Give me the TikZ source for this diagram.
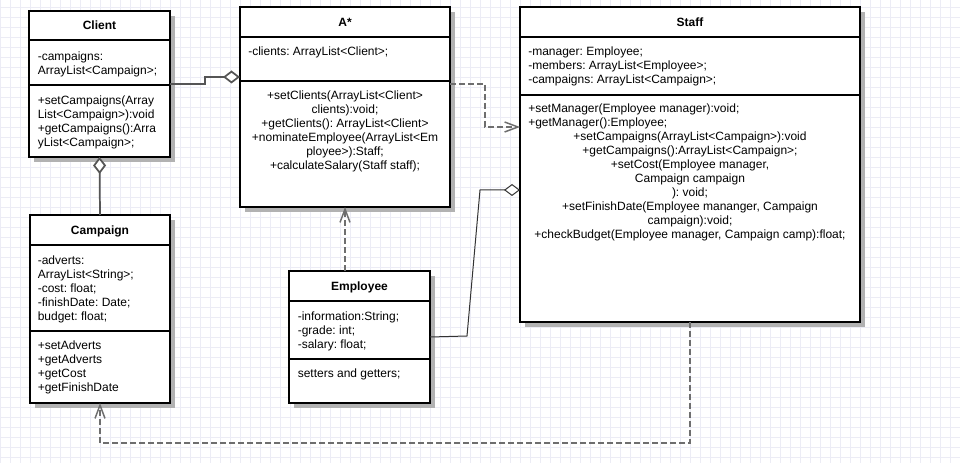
\documentclass[tikz,border=0pt]{standalone}
\usepackage{fontspec}
\setmainfont{Liberation Sans}
\usetikzlibrary{arrows.meta,shadows}
\definecolor{gridc}{RGB}{236,236,245}
\definecolor{agggray}{RGB}{85,85,85}
\definecolor{depgray}{RGB}{110,110,110}
\frenchspacing
\begin{document}
\frenchspacing
\begin{tikzpicture}[x=0.75pt,y=-0.75pt,
  cls/.style={draw=black,line width=1.5pt,fill=white,inner sep=0pt,outer sep=0pt,
    drop shadow={shadow xshift=3.75pt,shadow yshift=-3.75pt,fill=black!30,opacity=1}},
  sepline/.style={draw=black,line width=1.5pt},
  hdr/.style={font=\fontsize{9}{10.5}\selectfont\bfseries,inner sep=0pt,text height=8pt,text depth=1.6pt},
  txt/.style={font=\fontsize{9}{10.5}\selectfont\frenchspacing,inner sep=0pt,anchor=north west,align=left},
  ctxt/.style={font=\fontsize{9}{10.5}\selectfont\frenchspacing,inner sep=0pt,anchor=north,align=center},
  dep/.style={draw=depgray,line width=1.1pt,dash pattern=on 4.5pt off 2.25pt,
    -{Straight Barb[length=10pt,width=7.5pt]}},
  agg/.style={draw=agggray,line width=1.3pt,{Diamond[length=12.75pt,width=9.75pt,fill=white]}-},
  aggthin/.style={draw=black!80,line width=0.75pt,{Diamond[length=12pt,width=9pt,fill=white]}-}]

% background and grid
\fill[white] (0,0) rectangle (960,463);
\useasboundingbox (0,0) rectangle (960,463);
\foreach \gx in {0,10,...,960} \draw[gridc,line width=0.6pt] (\gx,0) -- (\gx,463);
\foreach \gy in {7,17,...,457} \draw[gridc,line width=0.6pt] (0,\gy) -- (960,\gy);

% Client
\node[cls,minimum width=105.75pt,minimum height=109.5pt] (client) at (99.5,84) {};
\draw[sepline] (client.west |- 0,40) -- (client.east |- 0,40);
\draw[sepline] (client.west |- 0,85) -- (client.east |- 0,85);
\node[hdr] (clienth) at (99.5,25.5) {Client};
\node[txt] (clienta) at (37.5,50.2) {\strut-campaigns:\\ArrayList<Campaign>;};
\node[txt] (clientm) at (37.5,94.7) {\strut+setCampaigns(Array\\List<Campaign>):void\\+getCampaigns():Arra\\yList<Campaign>;};

% A*
\node[cls,minimum width=157.5pt,minimum height=150pt] (astar) at (345,107) {};
\draw[sepline] (astar.west |- 0,37) -- (astar.east |- 0,37);
\draw[sepline] (astar.west |- 0,81) -- (astar.east |- 0,81);
\node[hdr] (astarh) at (345,22) {A*};
\node[txt] (astara) at (248,45.9) {\strut-clients: ArrayList<Client>;};
\node[ctxt] (astarm) at (345,89.9) {\strut+setClients(ArrayList<Client>\\clients):void;\\+getClients(): ArrayList<Client>\\+nominateEmployee(ArrayList<Em\\ployee>):Staff;\\+calculateSalary(Staff staff);};

% Staff
\node[cls,minimum width=255pt,minimum height=236.25pt] (staff) at (690,164.5) {};
\draw[sepline] (staff.west |- 0,37) -- (staff.east |- 0,37);
\draw[sepline] (staff.west |- 0,95) -- (staff.east |- 0,95);
\node[hdr] (staffh) at (690,22) {Staff};
\node[txt] (staffa) at (528,45.9) {\strut-manager: Employee;\\-members: ArrayList<Employee>;\\-campaigns: ArrayList<Campaign>;};
\node[txt] (staffm) at (528,102.5) {\strut+setManager(Employee manager):void;\\+getManager():Employee;};
\node[ctxt] (staffc) at (690,130.7) {\strut+setCampaigns(ArrayList<Campaign>):void\\+getCampaigns():ArrayList<Campaign>;\\+setCost(Employee manager,\\Campaign campaign\\): void;\\+setFinishDate(Employee mananger, Campaign\\campaign):void;\\+checkBudget(Employee manager, Campaign camp):float;};

% Campaign
\node[cls,minimum width=105pt,minimum height=141pt] (campaign) at (100,309) {};
\draw[sepline] (campaign.west |- 0,245) -- (campaign.east |- 0,245);
\draw[sepline] (campaign.west |- 0,331) -- (campaign.east |- 0,331);
\node[hdr] (campaignh) at (100,230) {Campaign};
\node[txt] (campaigna) at (37.5,254.2) {\strut-adverts:\\ArrayList<String>;\\-cost: float;\\-finishDate: Date;\\budget: float;};
\node[txt] (campaignm) at (37.5,339.9) {\strut+setAdverts\\+getAdverts\\+getCost\\+getFinishDate};

% Employee
\node[cls,minimum width=105.75pt,minimum height=99pt] (employee) at (359.5,337) {};
\draw[sepline] (employee.west |- 0,301) -- (employee.east |- 0,301);
\draw[sepline] (employee.west |- 0,359) -- (employee.east |- 0,359);
\node[hdr] (employeeh) at (359.5,286) {Employee};
\node[txt] (employeea) at (297.5,310.2) {\strut-information:String;\\-grade: int;\\-salary: float;};
\node[txt] (employeem) at (297.5,367.5) {\strut setters and getters;};

% connectors
\draw[agg] (astar.west |- 0,77) -- (205,77) -- (205,84) -- (client.east);
\draw[agg] (client.south) -- (campaign.north);
\draw[dep] (astar.east |- 0,84) -- (485,84) -- (485,127) -- (staff.west |- 0,127);
\draw[dep] (employee.north -| 345,0) -- (astar.south -| 345,0);
\draw[aggthin] (staff.west |- 0,190) -- (480,190) -- (467,336) -- (employee.east);
\draw[dep] (staff.south) -- (staff.south |- 0,443) -- (campaign.south |- 0,443) -- (campaign.south);
\end{tikzpicture}
\end{document}
